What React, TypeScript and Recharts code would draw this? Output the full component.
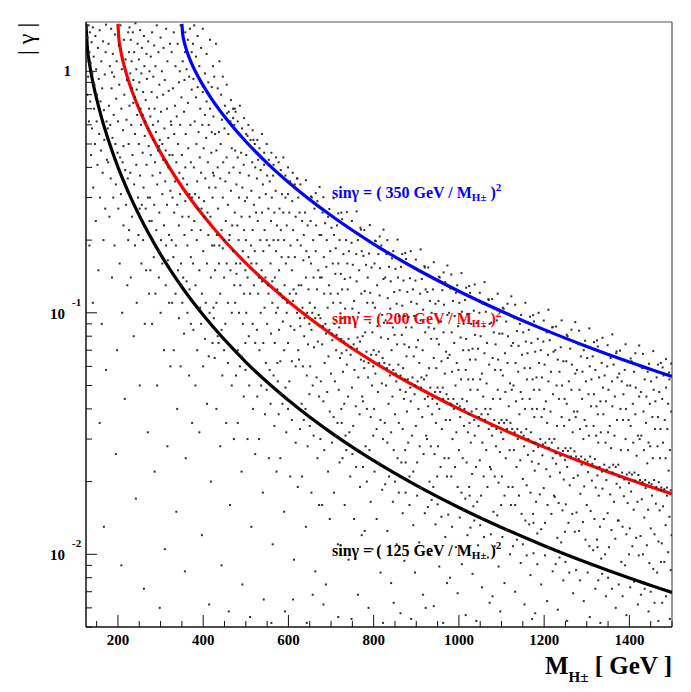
import { ComposedChart, Line, ReferenceLine, Scatter, XAxis, YAxis } from "recharts";

// axis ticks
const xTicks = [150, 200, 250, 300, 350, 400, 450, 500, 550, 600, 650, 700, 750, 800, 850, 900, 950, 1000, 1050, 1100, 1150, 1200, 1250, 1300, 1350, 1400, 1450, 1500];
const xLabelTicks = [200, 400, 600, 800, 1000, 1200, 1400];
const yTicks = [0.005, 0.006, 0.007, 0.008, 0.009, 0.01, 0.02, 0.03, 0.04, 0.05, 0.06, 0.07, 0.08, 0.09, 0.1, 0.2, 0.3, 0.4, 0.5, 0.6, 0.7, 0.8, 0.9, 1];
const yMajorTicks = [0.01, 0.1, 1];
const yMajorExponents = ["-2", "-1", ""];

// sinγ = (M0 / M)^2 curves
const blackCurveX = [125, 128, 132, 136, 140, 145, 150, 160, 175, 200, 225, 250, 300, 350, 400, 500, 600, 700, 800, 900, 1000, 1100, 1200, 1300, 1400, 1500];
const blackCurveY = [1.571, 1.265, 1.112, 1.006, 0.923, 0.838, 0.768, 0.657, 0.536, 0.401, 0.314, 0.2527, 0.1745, 0.1279, 0.09781, 0.06254, 0.04342, 0.03189, 0.02441, 0.01929, 0.015625, 0.012913, 0.010851, 0.009246, 0.007972, 0.006944];
const redCurveX = [200, 202, 205, 210, 215, 220, 230, 240, 260, 280, 300, 350, 400, 450, 500, 600, 700, 800, 900, 1000, 1100, 1200, 1300, 1400, 1500];
const redCurveY = [1.571, 1.372, 1.259, 1.136, 1.046, 0.973, 0.857, 0.768, 0.633, 0.5355, 0.4606, 0.3326, 0.2527, 0.1988, 0.1607, 0.11134, 0.08172, 0.06254, 0.0494, 0.04001, 0.033064, 0.027782, 0.023669, 0.020408, 0.017778];
const blueCurveX = [350, 352, 355, 360, 365, 370, 380, 390, 400, 420, 450, 500, 550, 600, 700, 800, 900, 1000, 1100, 1200, 1300, 1400, 1500];
const blueCurveY = [1.571, 1.42, 1.334, 1.238, 1.167, 1.108, 1.012, 0.937, 0.872, 0.7675, 0.6495, 0.5121, 0.417, 0.3473, 0.2527, 0.1926, 0.15181, 0.12281, 0.10141, 0.085172, 0.072549, 0.062541, 0.054471];

// scan points [M, |γ|]
const upperBand = [
  [358, 1.45], [364, 1.35], [369, 1.5], [373, 1.2],
  [376, 1.3], [379, 1.55], [383, 1.15], [387, 1.4], [391, 1.05], [395, 1.25], [399, 1.5], [404, .98], [408, 1.18], [412, .9], [416, 1.35], [420, .86], [423, 1.05],
  [426, .95], [430, 1.3], [434, .85], [438, 1.1], [442, .8], [446, .95], [451, .72], [455, .88], [460, .68], [465, .76], [470, .64], [474, .7],
  [476, .68], [481, .62], [486, .72], [491, .58], [496, .64], [501, .55], [506, .6], [511, .52], [516, .57], [521, .5],
  [527, .52], [532, .48], [538, .55], [543, .46], [549, .5], [554, .43], [560, .46], [565, .41], [571, .44],
  [577, .42], [582, .39], [588, .44], [593, .37], [599, .4], [604, .35], [610, .38], [615, .34], [621, .36],
  [628, .34], [641, .354], [653, .303], [664, .313], [673, .332],
  [682, .301], [696, .269], [706, .298], [717, .258], [724, .26],
  [726, .244], [737, .261], [749, .24], [760, .263], [770, .221],
  [778, .22], [791, .231], [803, .199], [814, .207], [823, .221],
  [832, .2], [846, .18], [856, .201], [867, .175], [874, .177],
  [876, .167], [887, .18], [899, .166], [910, .183], [920, .154],
  [928, .154], [941, .162], [953, .141], [964, .147], [973, .157],
  [982, .144], [996, .13], [1006, .146], [1017, .127], [1024, .129],
  [1026, .121], [1037, .131], [1049, .121], [1060, .134], [1070, .113],
  [1078, .114], [1091, .12], [1103, .105], [1114, .109], [1123, .117],
  [1132, .108], [1146, .098], [1156, .11], [1167, .0963], [1174, .0978],
  [1176, .0921], [1187, .1], [1199, .0929], [1210, .103], [1220, .0873],
  [1228, .0877], [1241, .093], [1253, .0811], [1264, .0851], [1273, .0915],
  [1282, .0843], [1296, .0766], [1306, .0862], [1317, .0756], [1324, .0769],
  [1326, .0725], [1337, .0788], [1349, .0734], [1360, .0814], [1370, .0692],
  [1378, .0697], [1391, .0741], [1403, .0647], [1414, .068], [1423, .0732],
  [1432, .0676], [1446, .0615], [1456, .0694], [1467, .061], [1474, .062],
  [1478, .0594], [1486, .0643], [1493, .0566], [1498, .0616]
];

const denseBand = [
  [127, 1.5], [129, 1.38], [131, 1.55], [133, 1.2], [134, 1.45], [136, 1.08], [138, 1.32], [140, .98], [141, 1.52], [143, 1.15], [145, .88], [147, 1.4], [149, 1.02],
  [151, .8], [153, 1.25], [155, .93], [157, 1.48], [159, .75], [161, 1.1], [163, .85], [165, 1.33], [167, .69], [169, .97], [171, 1.2], [173, .62], [172, 1.56],
  [176, .58], [178, 1.3], [179, .72], [181, 1.05], [182, .6], [184, 1.5], [185, .85], [187, .53], [188, 1.18], [190, .66], [191, .95], [193, 1.42], [194, .5], [196, .77],
  [197, 1.1], [199, .46], [200, .62], [202, 1.28], [203, .88], [205, .44], [206, 1.55], [208, .7], [209, 1.02], [211, .42], [212, .57], [214, 1.35], [215, .8], [217, .39],
  [218, 1.12], [220, .63], [221, .92], [223, .36], [224, 1.45], [186, .99], [213, .49],
  [226, 1.2], [227, 1.52], [229, .98], [230, 1.35], [232, 1.1], [233, .85], [235, 1.45], [236, .92], [238, 1.2], [240, .78], [241, 1.58], [243, 1.02], [244, .84],
  [246, 1.3], [247, .72], [249, 1.12], [250, .9], [252, 1.48], [253, .7], [255, .98], [256, 1.25], [258, .66], [259, .82], [261, 1.4], [262, 1.05], [264, .62],
  [265, .76], [267, 1.18], [268, .93], [270, .58], [271, 1.33], [273, .7], [274, 1.0],
  [276, .65], [277, 1.15], [279, .82], [280, 1.45], [282, .6], [283, .95], [285, 1.28], [286, .7], [288, 1.05], [289, .56], [291, 1.55], [292, .78], [294, .62],
  [295, 1.2], [297, .88], [298, .52], [300, 1.38], [301, .68], [303, 1.0], [304, .5], [306, .8], [307, 1.25], [309, .58], [310, .92], [312, .47], [313, 1.5],
  [315, .7], [316, 1.1], [318, .53], [319, .83], [321, .45], [322, 1.3], [324, .62], [314, .42], [296, .49],
  [325, .6], [326, 1.2], [328, .45], [329, .85], [331, 1.45], [332, .55], [334, .72], [335, 1.05], [337, .42], [338, .65], [340, 1.3], [341, .5], [343, .9],
  [344, .38], [346, .6], [347, 1.55], [349, .78], [350, .45], [352, 1.1], [353, .36], [355, .68], [356, .92], [358, .4], [359, .55], [361, 1.02], [362, .34],
  [364, .74], [365, .48], [367, .95], [368, .31], [370, .6], [371, .42], [373, .84], [374, .3], [357, 1.2], [345, 1.0],
  [377, .93], [378, .4], [380, .62], [381, .31], [383, .78], [384, .5], [386, .35], [387, .86], [389, .56], [390, .3], [392, .44], [393, .7], [395, .38],
  [396, .27], [398, .6], [399, .82], [401, .48], [402, .29], [404, .66], [405, .36], [407, .53], [408, .75], [410, .26], [411, .42], [413, .6], [414, .33],
  [416, .7], [417, .25], [419, .46], [420, .56], [422, .3], [423, .38], [424, .65],
  [474, .26], [473, .6], [471, .4], [470, .7], [468, .23], [467, .48], [465, .32], [464, .62], [462, .21], [461, .38], [459, .55], [458, .28], [456, .67],
  [455, .44], [453, .24], [452, .35], [450, .58], [449, .2], [447, .42], [446, .3], [444, .63], [443, .22], [441, .5], [440, .36], [438, .19], [437, .56],
  [435, .27], [434, .4], [432, .21], [431, .47], [429, .33], [428, .55], [426, .19], [425, .37],
  [500, .2], [501, .45], [503, .3], [504, .54], [506, .17], [507, .37], [509, .25], [510, .49], [512, .19], [513, .32], [515, .42], [516, .22], [518, .52],
  [519, .28], [521, .18], [522, .4], [524, .26], [475, .47], [477, .16], [478, .34], [480, .23], [481, .44], [483, .2], [484, .3], [486, .38], [487, .16],
  [489, .46], [490, .25], [492, .33], [493, .18], [495, .41], [496, .22], [498, .29], [499, .15],
  [525, .16], [526, .36], [528, .24], [529, .43], [531, .14], [532, .3], [534, .2], [535, .39], [537, .15], [538, .26], [540, .34], [541, .18], [543, .41],
  [544, .22], [546, .14], [547, .31], [549, .2], [550, .37], [552, .13], [553, .27], [555, .19], [556, .35], [558, .16], [559, .24], [561, .3], [562, .135],
  [564, .37], [565, .2], [567, .26], [568, .14], [570, .32], [571, .18], [573, .23], [574, .125],
  [624, .13], [623, .3], [621, .2], [620, .36], [618, .12], [617, .25], [615, .17], [614, .33], [612, .125], [611, .22], [609, .29], [608, .15], [606, .34],
  [605, .19], [603, .12], [602, .26], [600, .17], [599, .31], [597, .11], [596, .23], [594, .16], [593, .3], [591, .13], [590, .2], [588, .26], [587, .115],
  [585, .31], [584, .17], [582, .22], [581, .12], [579, .27], [578, .15], [576, .2], [575, .105],
  [650, .11], [652, .24], [653, .16], [655, .3], [656, .1], [658, .2], [659, .14], [661, .27], [662, .105], [664, .18], [665, .23], [667, .125], [668, .29],
  [670, .15], [671, .098], [673, .21], [674, .14], [626, .26], [627, .095], [629, .19], [630, .13], [632, .24], [633, .105], [635, .165], [636, .21], [638, .095],
  [639, .26], [641, .14], [642, .18], [644, .1], [645, .23], [647, .125], [648, .17], [649, .09],
  [675, .095], [677, .21], [678, .14], [680, .26], [681, .088], [683, .17], [684, .12], [686, .235], [687, .09], [689, .155], [690, .2], [692, .105], [693, .25],
  [695, .13], [696, .085], [698, .18], [699, .12], [701, .225], [702, .082], [704, .16], [705, .11], [707, .21], [708, .09], [710, .145], [711, .185], [713, .081],
  [714, .23], [716, .12], [717, .16], [719, .087], [720, .2], [722, .11], [723, .145], [724, .078],
  [774, .08], [772, .18], [771, .12], [769, .225], [768, .076], [766, .15], [765, .1], [763, .2], [762, .079], [760, .135], [759, .175], [757, .09], [756, .215],
  [754, .112], [753, .074], [751, .158], [750, .104], [748, .195], [747, .072], [745, .14], [744, .095], [742, .18], [741, .078], [739, .125], [738, .16], [736, .07],
  [735, .2], [733, .104], [732, .138], [730, .076], [729, .175], [727, .095], [726, .125], [725, .068],
  [800, .07], [802, .16], [803, .105], [805, .198], [806, .067], [808, .13], [809, .088], [811, .175], [812, .069], [814, .118], [815, .153], [817, .079], [818, .19],
  [820, .098], [821, .065], [823, .138], [824, .091], [776, .172], [777, .063], [779, .123], [780, .083], [782, .158], [783, .069], [785, .11], [786, .14], [788, .062],
  [789, .176], [791, .091], [792, .121], [794, .067], [795, .154], [797, .083], [798, .11], [799, .06],
  [825, .062], [827, .14], [828, .093], [830, .175], [831, .059], [833, .115], [834, .078], [836, .155], [837, .061], [839, .104], [840, .135], [842, .07], [843, .168],
  [845, .087], [846, .058], [848, .122], [849, .081], [851, .152], [852, .056], [854, .109], [855, .074], [857, .14], [858, .061], [860, .097], [861, .124], [863, .055],
  [864, .155], [866, .081], [867, .107], [869, .059], [870, .136], [872, .074], [873, .097], [874, .053],
  [924, .055], [922, .125], [921, .083], [919, .156], [918, .053], [916, .103], [915, .07], [913, .138], [912, .054], [910, .093], [909, .12], [907, .062], [906, .15],
  [904, .077], [903, .052], [901, .109], [900, .072], [898, .136], [897, .05], [895, .097], [894, .066], [892, .125], [891, .054], [889, .087], [888, .111], [886, .049],
  [885, .139], [883, .072], [882, .096], [880, .053], [879, .122], [877, .066], [876, .087], [875, .047],
  [950, .049], [952, .112], [953, .074], [955, .14], [956, .047], [958, .092], [959, .063], [961, .124], [962, .049], [964, .083], [965, .108], [967, .056], [968, .134],
  [970, .069], [971, .046], [973, .098], [974, .065], [926, .122], [927, .045], [929, .087], [930, .059], [932, .112], [933, .049], [935, .078], [936, .1], [938, .044],
  [939, .125], [941, .065], [942, .086], [944, .047], [945, .109], [947, .059], [948, .078], [949, .042],
  [975, .044], [977, .1], [978, .067], [980, .126], [981, .042], [983, .083], [984, .057], [986, .112], [987, .044], [989, .075], [990, .097], [992, .05], [993, .121],
  [995, .062], [996, .042], [998, .088], [999, .058], [1001, .11], [1002, .041], [1004, .079], [1005, .053], [1007, .101], [1008, .044], [1010, .07], [1011, .09],
  [1013, .04], [1014, .113], [1016, .058], [1017, .078], [1019, .043], [1020, .099], [1022, .053], [1023, .07], [1024, .038],
  [1074, .04], [1072, .09], [1071, .061], [1069, .114], [1068, .038], [1066, .075], [1065, .051], [1063, .101], [1062, .04], [1060, .068], [1059, .088], [1057, .045],
  [1056, .109], [1054, .056], [1053, .038], [1051, .08], [1050, .053], [1048, .1], [1047, .037], [1045, .071], [1044, .048], [1042, .091], [1041, .04], [1039, .064],
  [1038, .081], [1036, .036], [1035, .102], [1033, .053], [1032, .071], [1030, .039], [1029, .09], [1027, .048], [1026, .064], [1025, .035],
  [1100, .036], [1102, .082], [1103, .055], [1105, .104], [1106, .035], [1108, .068], [1109, .047], [1111, .092], [1112, .036], [1114, .062], [1115, .08], [1117, .041],
  [1118, .099], [1120, .051], [1121, .035], [1123, .073], [1124, .048], [1076, .091], [1077, .034], [1079, .065], [1080, .044], [1082, .083], [1083, .036], [1085, .058],
  [1086, .074], [1088, .033], [1089, .093], [1091, .048], [1092, .064], [1094, .035], [1095, .082], [1097, .044], [1098, .058], [1099, .032],
  [1125, .033], [1127, .075], [1128, .05], [1130, .095], [1131, .032], [1133, .062], [1134, .043], [1136, .084], [1137, .033], [1139, .057], [1140, .073], [1142, .038],
  [1143, .09], [1145, .047], [1146, .032], [1148, .067], [1149, .044], [1151, .083], [1152, .031], [1154, .059], [1155, .04], [1157, .076], [1158, .033], [1160, .053],
  [1161, .068], [1163, .03], [1164, .085], [1166, .044], [1167, .059], [1169, .032], [1170, .075], [1172, .04], [1173, .053], [1174, .029],
  [1224, .03], [1222, .069], [1221, .046], [1219, .087], [1218, .029], [1216, .057], [1215, .039], [1213, .077], [1212, .03], [1210, .052], [1209, .067], [1207, .035],
  [1206, .083], [1204, .043], [1203, .029], [1201, .061], [1200, .04], [1198, .076], [1197, .0285], [1195, .054], [1194, .037], [1192, .07], [1191, .03], [1189, .048],
  [1188, .062], [1186, .0278], [1185, .078], [1183, .04], [1182, .054], [1180, .029], [1179, .069], [1177, .037], [1176, .048], [1175, .0268],
  [1250, .0275], [1252, .063], [1253, .042], [1255, .08], [1256, .0268], [1258, .052], [1259, .036], [1261, .071], [1262, .0275], [1264, .048], [1265, .061], [1267, .032],
  [1268, .076], [1270, .039], [1271, .0267], [1273, .056], [1274, .037], [1226, .07], [1227, .0262], [1229, .05], [1230, .034], [1232, .064], [1233, .0275], [1235, .044],
  [1236, .057], [1238, .0256], [1239, .072], [1241, .037], [1242, .05], [1244, .0268], [1245, .063], [1247, .034], [1248, .044], [1249, .0246],
  [1275, .0254], [1277, .058], [1278, .039], [1280, .074], [1281, .0248], [1283, .048], [1284, .033], [1286, .066], [1287, .0254], [1289, .044], [1290, .057], [1292, .03],
  [1293, .07], [1295, .036], [1296, .0247], [1298, .052], [1299, .034], [1301, .065], [1302, .0242], [1304, .046], [1305, .031], [1307, .06], [1308, .0254], [1310, .041],
  [1311, .053], [1313, .0237], [1314, .066], [1316, .034], [1317, .046], [1319, .0248], [1320, .058], [1322, .031], [1323, .041], [1324, .0228],
  [1374, .0235], [1372, .054], [1371, .036], [1369, .068], [1368, .023], [1366, .045], [1365, .031], [1363, .061], [1362, .0235], [1360, .041], [1359, .052], [1357, .0275],
  [1356, .065], [1354, .034], [1353, .0229], [1351, .048], [1350, .032], [1348, .06], [1347, .0224], [1345, .043], [1344, .029], [1342, .055], [1341, .0235], [1339, .038],
  [1338, .049], [1336, .022], [1335, .062], [1333, .032], [1332, .043], [1330, .023], [1329, .054], [1327, .029], [1326, .038], [1325, .0212],
  [1400, .0218], [1402, .05], [1403, .034], [1405, .063], [1406, .0214], [1408, .042], [1409, .029], [1411, .057], [1412, .0218], [1414, .038], [1415, .049], [1417, .0256],
  [1418, .061], [1420, .031], [1421, .0213], [1423, .045], [1424, .03], [1376, .056], [1377, .0209], [1379, .04], [1380, .027], [1382, .052], [1383, .0218], [1385, .036],
  [1386, .046], [1388, .0204], [1389, .058], [1391, .03], [1392, .04], [1394, .0214], [1395, .05], [1397, .027], [1398, .036], [1399, .0197],
  [1425, .0203], [1427, .047], [1428, .031], [1430, .059], [1431, .0199], [1433, .039], [1434, .027], [1436, .053], [1437, .0203], [1439, .035], [1440, .045], [1442, .0238],
  [1443, .057], [1445, .029], [1446, .0198], [1448, .042], [1449, .028], [1451, .052], [1452, .0195], [1454, .037], [1455, .025], [1457, .048], [1458, .0203], [1460, .033],
  [1461, .043], [1463, .019], [1464, .054], [1466, .028], [1467, .037], [1469, .0199], [1470, .047], [1472, .025], [1473, .033], [1474, .0184],
  [1475, .0189], [1477, .044], [1479, .029], [1480, .055], [1482, .0186], [1483, .036], [1485, .025], [1486, .049], [1488, .0189], [1489, .033], [1491, .042], [1492, .0222],
  [1494, .053], [1495, .027], [1497, .0184], [1498, .039]
];

const midBand = [
  [225, .5], [227, .72], [229, .38], [231, .6], [234, .45], [236, .74], [238, .34], [240, .55], [243, .41], [245, .66], [247, .3], [249, .5], [252, .37], [254, .6],
  [256, .28], [258, .46], [260, .33], [263, .54], [265, .27], [267, .41], [270, .3], [272, .49], [274, .24], [251, .27],
  [275, .3], [277, .45], [279, .24], [281, .37], [283, .52], [285, .28], [287, .42], [290, .22], [292, .34], [294, .47], [297, .26], [299, .38], [301, .2], [304, .31],
  [306, .43], [308, .23], [311, .35], [313, .19], [315, .28], [318, .4], [320, .21], [323, .32], [296, .18], [317, .165],
  [326, .2], [328, .3], [330, .17], [332, .26], [334, .35], [336, .19], [339, .28], [341, .15], [343, .23], [346, .31], [348, .16], [351, .25], [353, .14], [356, .21],
  [358, .29], [361, .135], [363, .19], [366, .25], [368, .125], [371, .17], [373, .22], [349, .13],
  [376, .16], [379, .24], [382, .13], [385, .2], [388, .27], [391, .15], [394, .22], [397, .12], [400, .18], [403, .25], [406, .11], [409, .16], [412, .21], [415, .1],
  [418, .14], [421, .19], [424, .105], [393, .105],
  [473, .13], [470, .18], [467, .1], [464, .15], [461, .2], [458, .11], [455, .16], [452, .09], [449, .14], [446, .185], [443, .085], [440, .12], [437, .16], [434, .08],
  [431, .11], [428, .15], [425, .095],
  [501, .1], [504, .14], [507, .08], [510, .12], [513, .16], [516, .09], [519, .13], [522, .075], [475, .11], [478, .145], [481, .07], [484, .1], [487, .13], [490, .066],
  [493, .09], [496, .12], [499, .075],
  [526, .085], [529, .12], [532, .07], [535, .1], [538, .135], [541, .075], [544, .105], [547, .062], [550, .09], [553, .12], [556, .058], [559, .082], [562, .11],
  [565, .055], [568, .075], [571, .1], [574, .062],
  [623, .07], [620, .1], [617, .06], [614, .085], [611, .112], [608, .063], [605, .088], [602, .052], [599, .075], [596, .1], [593, .049], [590, .07], [587, .092],
  [584, .046], [581, .063], [578, .085], [575, .052],
  [651, .06], [654, .085], [657, .05], [660, .072], [663, .095], [666, .054], [669, .076], [672, .045], [625, .064], [628, .088], [631, .042], [634, .06], [637, .08],
  [640, .04], [643, .055], [646, .074], [649, .046],
  [676, .052], [679, .074], [682, .043], [685, .062], [688, .082], [691, .047], [694, .066], [697, .039], [700, .056], [703, .077], [706, .037], [709, .052], [712, .07],
  [715, .035], [718, .048], [721, .065], [724, .04],
  [773, .045], [770, .064], [767, .038], [764, .054], [761, .071], [758, .041], [755, .058], [752, .034], [749, .049], [746, .067], [743, .032], [740, .045], [737, .061],
  [734, .031], [731, .042], [728, .057], [725, .035],
  [801, .04], [804, .056], [807, .033], [810, .047], [813, .062], [816, .036], [819, .051], [822, .03], [775, .043], [778, .059], [781, .028], [784, .04], [787, .054],
  [790, .027], [793, .037], [796, .05], [799, .031],
  [826, .035], [829, .05], [832, .029], [835, .042], [838, .055], [841, .032], [844, .045], [847, .027], [850, .038], [853, .052], [856, .025], [859, .035], [862, .048],
  [865, .024], [868, .033], [871, .044], [874, .027],
  [923, .031], [920, .044], [917, .026], [914, .037], [911, .049], [908, .028], [905, .04], [902, .024], [899, .034], [896, .046], [893, .022], [890, .031], [887, .043],
  [884, .021], [881, .029], [878, .039], [875, .024],
  [951, .028], [954, .04], [957, .023], [960, .033], [963, .044], [966, .025], [969, .036], [972, .021], [925, .03], [928, .041], [931, .02], [934, .028], [937, .038],
  [940, .019], [943, .026], [946, .035], [949, .021],
  [976, .025], [979, .036], [982, .021], [985, .03], [988, .04], [991, .023], [994, .032], [997, .019], [1000, .027], [1003, .037], [1006, .018], [1009, .025],
  [1012, .034], [1015, .017], [1018, .024], [1021, .032], [1024, .019],
  [1073, .023], [1070, .033], [1067, .019], [1064, .027], [1061, .036], [1058, .021], [1055, .029], [1052, .0175], [1049, .0245], [1046, .034], [1043, .0165],
  [1040, .023], [1037, .031], [1034, .0158], [1031, .0215], [1028, .029], [1025, .0175],
  [1101, .021], [1104, .03], [1107, .0175], [1110, .025], [1113, .033], [1116, .019], [1119, .027], [1122, .016], [1075, .0225], [1078, .031], [1081, .015],
  [1084, .021], [1087, .028], [1090, .0145], [1093, .0198], [1096, .0265], [1099, .016],
  [1126, .019], [1129, .027], [1132, .016], [1135, .023], [1138, .03], [1141, .0175], [1144, .0245], [1147, .0147], [1150, .0205], [1153, .028], [1156, .0138],
  [1159, .0193], [1162, .0258], [1165, .0133], [1168, .018], [1171, .0242], [1174, .0147],
  [1223, .0175], [1220, .025], [1217, .0147], [1214, .021], [1211, .0276], [1208, .016], [1205, .0225], [1202, .0135], [1199, .0188], [1196, .0257], [1193, .0127],
  [1190, .0177], [1187, .0237], [1184, .0122], [1181, .0165], [1178, .0222], [1175, .0135],
  [1251, .0161], [1254, .023], [1257, .0135], [1260, .0193], [1263, .0254], [1266, .0147], [1269, .0207], [1272, .0124], [1225, .0173], [1228, .0237], [1231, .0117],
  [1234, .0163], [1237, .0218], [1240, .0112], [1243, .0152], [1246, .0204], [1249, .0124],
  [1276, .0149], [1279, .0212], [1282, .0125], [1285, .0178], [1288, .0235], [1291, .0136], [1294, .0191], [1297, .0115], [1300, .016], [1303, .0219], [1306, .0108],
  [1309, .0151], [1312, .0202], [1315, .0104], [1318, .014], [1321, .0189], [1324, .0115],
  [1373, .0138], [1370, .0196], [1367, .0116], [1364, .0165], [1361, .0218], [1358, .0126], [1355, .0177], [1352, .0107], [1349, .0148], [1346, .0203], [1343, .01],
  [1340, .014], [1337, .0187], [1334, .0096], [1331, .013], [1328, .0175], [1325, .0107],
  [1401, .0128], [1404, .0182], [1407, .0108], [1410, .0153], [1413, .0202], [1416, .0117], [1419, .0165], [1422, .0099], [1375, .0138], [1378, .0189], [1381, .0093],
  [1384, .013], [1387, .0174], [1390, .009], [1393, .0121], [1396, .0163], [1399, .01],
  [1426, .0119], [1429, .0169], [1432, .01], [1435, .0142], [1438, .0188], [1441, .0109], [1444, .0153], [1447, .0092], [1450, .0128], [1453, .0175], [1456, .0087],
  [1459, .0121], [1462, .0162], [1465, .0084], [1468, .0113], [1471, .0152], [1474, .0093],
  [1476, .0111], [1479, .0158], [1482, .0093], [1485, .0132], [1488, .0175], [1491, .0102], [1494, .0143], [1497, .0086], [1499, .012]
];

const lowerBand = [
  [126, 1.1], [128, .8], [130, .95], [132, .62], [135, .75], [137, .45], [139, .58], [142, .33], [144, .7], [146, .5], [148, .24], [150, .62], [152, .41], [154, .15],
  [156, .55], [158, .3], [160, .47], [162, .09], [164, .38], [166, .2], [168, .52], [170, .27], [172, .058], [174, .43], [141, .11], [157, .035], [133, .19], [167, .013],
  [177, .42], [180, .25], [183, .36], [186, .14], [189, .3], [192, .19], [195, .34], [198, .07], [201, .27], [204, .16], [207, .31], [210, .1], [213, .23], [216, .044],
  [219, .28], [222, .13], [224, .2], [195, .026], [208, .009],
  [226, .22], [230, .14], [233, .25], [237, .08], [240, .19], [244, .11], [248, .21], [251, .05], [255, .16], [259, .2], [263, .09], [266, .15], [270, .032], [273, .12],
  [242, .017], [261, .0072],
  [276, .15], [280, .09], [284, .17], [288, .12], [292, .05], [296, .14], [300, .1], [304, .16], [308, .07], [312, .13], [316, .028], [320, .11], [323, .06], [286, .022],
  [310, .0105], [298, .006],
  [327, .11], [331, .07], [335, .12], [339, .04], [343, .095], [347, .06], [351, .11], [355, .082], [359, .025], [363, .1], [367, .055], [371, .09], [337, .015],
  [357, .0085], [374, .035],
  [377, .085], [382, .05], [386, .07], [391, .032], [395, .09], [400, .06], [404, .078], [409, .042], [413, .066], [418, .02], [422, .075], [397, .012], [414, .0062],
  [427, .065], [431, .04], [436, .075], [440, .028], [445, .055], [449, .07], [454, .035], [458, .062], [463, .016], [467, .05], [472, .03], [443, .009], [460, .0058],
  [477, .055], [481, .035], [486, .06], [490, .022], [495, .045], [499, .058], [504, .03], [508, .05], [513, .013], [517, .04], [522, .026], [492, .0075], [510, .0055],
  [527, .045], [531, .03], [536, .05], [540, .018], [545, .038], [549, .048], [554, .025], [558, .042], [563, .011], [567, .034], [572, .022], [542, .0065], [560, .0052],
  [577, .038], [581, .025], [586, .042], [590, .015], [595, .032], [599, .04], [604, .021], [608, .036], [613, .0095], [617, .029], [622, .019], [592, .0058], [611, .0065],
  [627, .033], [632, .021], [636, .036], [641, .013], [645, .028], [650, .034], [654, .018], [659, .031], [663, .0085], [668, .025], [672, .016], [643, .0052], [657, .0068],
  [702, .029], [707, .018], [711, .031], [716, .011], [720, .024], [675, .03], [679, .016], [684, .027], [688, .0075], [693, .022], [697, .014], [717, .0055], [682, .0062],
  [727, .025], [732, .016], [736, .027], [741, .0095], [745, .021], [750, .026], [754, .014], [759, .023], [763, .0068], [768, .019], [772, .012], [748, .0054],
  [802, .022], [807, .014], [811, .024], [816, .0084], [820, .0185], [775, .023], [779, .0125], [784, .02], [788, .006], [793, .0165], [797, .0105], [822, .0052],
  [827, .0195], [832, .0125], [836, .021], [841, .0076], [845, .0165], [850, .02], [854, .011], [859, .018], [863, .0057], [868, .0148], [872, .0094], [847, .0063],
  [902, .0175], [907, .0112], [911, .0188], [916, .0068], [920, .0148], [875, .018], [879, .0099], [884, .016], [888, .0054], [893, .0132], [897, .0084], [922, .006],
  [927, .0157], [932, .01], [936, .0168], [941, .0061], [945, .0133], [950, .0161], [954, .0089], [959, .0143], [963, .0052], [968, .0118], [972, .0076],
  [1002, .0142], [1007, .0091], [1011, .0152], [1016, .0056], [1020, .012], [975, .0146], [979, .008], [984, .013], [993, .0107], [997, .0069],
  [1027, .0129], [1032, .0083], [1036, .0138], [1041, .0053], [1045, .0109], [1050, .0132], [1054, .0073], [1059, .0118], [1068, .0097], [1072, .0063],
  [1102, .0118], [1107, .0076], [1111, .0126], [1120, .01], [1075, .0121], [1079, .0067], [1084, .0108], [1093, .0089], [1097, .0058],
  [1127, .0108], [1132, .007], [1136, .0115], [1145, .0092], [1150, .011], [1154, .0062], [1159, .0099], [1168, .0082], [1172, .0054],
  [1202, .0099], [1207, .0064], [1211, .0106], [1220, .0085], [1175, .0101], [1179, .0057], [1184, .0091], [1193, .0075],
  [1227, .0091], [1232, .0059], [1236, .0097], [1245, .0078], [1250, .0093], [1254, .0053], [1259, .0084], [1268, .0069],
  [1302, .0084], [1307, .0055], [1311, .009], [1320, .0072], [1275, .0086], [1284, .0078], [1293, .0064],
  [1327, .0078], [1332, .0052], [1336, .0083], [1345, .0067], [1350, .008], [1359, .0072], [1368, .006],
  [1402, .0073], [1411, .0077], [1420, .0062], [1375, .0075], [1384, .0067], [1393, .0056],
  [1427, .0068], [1436, .0072], [1445, .0058], [1450, .007], [1459, .0063], [1468, .0053],
  [1477, .0063], [1486, .0067], [1495, .0054]
];

const FONT = "'Liberation Serif', 'Times New Roman', serif";
const PLOT_LEFT = 86;
const PLOT_BOTTOM = 627;

const toPoints = (xs: number[], ys: number[]) => xs.map((x, i) => ({ x, y: ys[i] }));

const scanPoints = [...upperBand, ...denseBand, ...midBand, ...lowerBand].map(([x, y]) => ({ x, y }));
const blackCurve = toPoints(blackCurveX, blackCurveY);
const redCurve = toPoints(redCurveX, redCurveY);
const blueCurve = toPoints(blueCurveX, blueCurveY);

function XTick({ x, payload }: any) {
  const value = payload.value;
  const major = xLabelTicks.includes(value);
  return (
    <g>
      <line x1={x} x2={x} y1={PLOT_BOTTOM} y2={PLOT_BOTTOM - (major ? 12 : 6)} stroke="#111" strokeWidth={1} />
      {major && (
        <text x={x} y={PLOT_BOTTOM + 18} textAnchor="middle" fontFamily={FONT} fontWeight="bold" fontSize={15} fill="#000">
          {value}
        </text>
      )}
    </g>
  );
}

function YTick({ y, payload }: any) {
  const idx = yMajorTicks.indexOf(payload.value);
  const major = idx >= 0;
  const x = PLOT_LEFT;
  return (
    <g>
      <line x1={x} x2={x + (major ? 11 : 6)} y1={y} y2={y} stroke="#111" strokeWidth={1} />
      {major && yMajorExponents[idx] === "" && (
        <text x={x - 15} y={y + 5} textAnchor="end" fontFamily={FONT} fontWeight="bold" fontSize={15} fill="#000">
          1
        </text>
      )}
      {major && yMajorExponents[idx] !== "" && (
        <g fontFamily={FONT} fontWeight="bold" fill="#000">
          <text x={x - 36} y={y + 6} fontSize={15}>10</text>
          <text x={x - 14} y={y - 7} fontSize={11}>{yMajorExponents[idx]}</text>
        </g>
      )}
    </g>
  );
}

const Speck = (props: any) => <rect x={props.cx - 1} y={props.cy - 1} width={2} height={2} fill="#2e2e2e" />;

function CurveLabel({ y, mass, color }: { y: number; mass: number; color: string }) {
  return (
    <text x={332} y={y} fill={color} fontFamily={FONT} fontWeight="bold" fontSize={16}>
      sinγ = ( {mass} GeV / M
      <tspan fontSize={11} dy={3}>H±</tspan>
      <tspan dy={-3}> )</tspan>
      <tspan fontSize={11} dy={-7}>2</tspan>
    </text>
  );
}

export default function App() {
  return (
    <div style={{ position: "absolute", left: 0, top: 0, width: 691, height: 692, background: "#fff" }}>
      <svg width={691} height={692} style={{ position: "absolute", left: 0, top: 0 }}>
        <CurveLabel y={198} mass={350} color="#0000ff" />
        <CurveLabel y={324} mass={200} color="#ff0000" />
        <CurveLabel y={556} mass={125} color="#000000" />
        <text x={672} y={674} textAnchor="end" fontFamily={FONT} fontWeight="bold" fontSize={25} fill="#000">
          M<tspan fontSize={15} dy={8}>H±</tspan>
          <tspan dy={-8}> [ GeV ]</tspan>
        </text>
        <text transform="translate(34,55) rotate(-90)" fontFamily={FONT} fontSize={24} fill="#000">
          | γ |
        </text>
      </svg>
      <div style={{ position: "absolute", left: 0, top: 0 }}>
        <ComposedChart width={691} height={692} margin={{ top: 22, right: 19, bottom: 0, left: 0 }}>
          <XAxis
            type="number"
            dataKey="x"
            domain={[125, 1500]}
            allowDataOverflow
            ticks={xTicks}
            interval={0}
            tick={(p: any) => <XTick {...p} />}
            tickLine={false}
            height={65}
            axisLine={{ stroke: "#111", strokeWidth: 1.5 }}
          />
          <YAxis
            type="number"
            dataKey="y"
            scale="log"
            domain={[0.005, 1.6]}
            allowDataOverflow
            ticks={yTicks}
            interval={0}
            tick={(p: any) => <YTick {...p} />}
            tickLine={false}
            width={86}
            axisLine={{ stroke: "#111", strokeWidth: 1.5 }}
          />
          <ReferenceLine y={1.6} stroke="#555" strokeWidth={1.2} />
          <ReferenceLine x={1500} stroke="#555" strokeWidth={1.2} />
          <Scatter data={scanPoints} dataKey="y" shape={Speck} isAnimationActive={false} />
          <Line data={blackCurve} dataKey="y" type="monotone" stroke="#000000" strokeWidth={3.2} dot={false} isAnimationActive={false} />
          <Line data={redCurve} dataKey="y" type="monotone" stroke="#ff0000" strokeWidth={3.2} dot={false} isAnimationActive={false} />
          <Line data={blueCurve} dataKey="y" type="monotone" stroke="#0000ff" strokeWidth={3.2} dot={false} isAnimationActive={false} />
        </ComposedChart>
      </div>
    </div>
  );
}
